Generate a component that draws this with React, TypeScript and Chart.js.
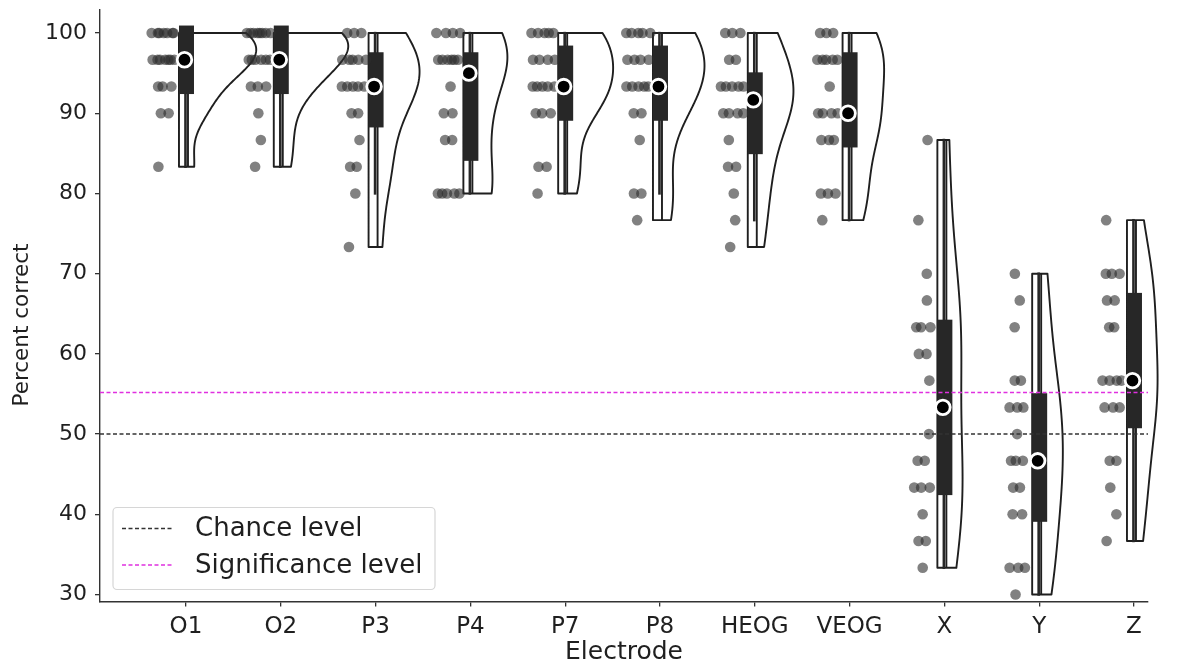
import React, { useEffect, useRef } from 'react';
import { Chart, registerables } from 'chart.js';
Chart.register(...registerables);

// ---------- data (percent correct, 20 participants per electrode) ----------
const electrodes = ['O1', 'O2', 'P3', 'P4', 'P7', 'P8', 'HEOG', 'VEOG', 'X', 'Y', 'Z'];

const scoresO1 = [100, 100, 100, 100, 100, 100, 100, 96.67, 96.67, 96.67, 96.67, 96.67, 96.67, 96.67, 93.33, 93.33, 93.33, 90, 90, 83.33];
const scoresO2 = [100, 100, 100, 100, 100, 100, 100, 100, 96.67, 96.67, 96.67, 96.67, 96.67, 96.67, 93.33, 93.33, 93.33, 90, 86.67, 83.33];
const scoresP3 = [100, 100, 100, 96.67, 96.67, 96.67, 96.67, 96.67, 93.33, 93.33, 93.33, 93.33, 93.33, 90, 90, 86.67, 83.33, 83.33, 80, 73.33];
const scoresP4 = [100, 100, 100, 100, 96.67, 96.67, 96.67, 96.67, 96.67, 96.67, 93.33, 90, 90, 86.67, 86.67, 80, 80, 80, 80, 80];
const scoresP7 = [100, 100, 100, 100, 100, 96.67, 96.67, 96.67, 96.67, 93.33, 93.33, 93.33, 93.33, 93.33, 90, 90, 90, 83.33, 83.33, 80];
const scoresP8 = [100, 100, 100, 100, 100, 96.67, 96.67, 96.67, 96.67, 93.33, 93.33, 93.33, 93.33, 93.33, 90, 90, 86.67, 80, 80, 76.67];
const scoresHEOG = [100, 100, 100, 96.67, 96.67, 93.33, 93.33, 93.33, 93.33, 93.33, 90, 90, 90, 90, 86.67, 83.33, 83.33, 80, 76.67, 73.33];
const scoresVEOG = [100, 100, 100, 96.67, 96.67, 96.67, 96.67, 96.67, 93.33, 90, 90, 90, 90, 86.67, 86.67, 86.67, 80, 80, 80, 76.67];
const scoresX = [86.67, 76.67, 70, 66.67, 63.33, 63.33, 63.33, 60, 60, 56.67, 50, 46.67, 46.67, 43.33, 43.33, 43.33, 40, 36.67, 36.67, 33.33];
const scoresY = [70, 66.67, 63.33, 56.67, 56.67, 53.33, 53.33, 53.33, 50, 46.67, 46.67, 46.67, 43.33, 43.33, 40, 40, 33.33, 33.33, 33.33, 30];
const scoresZ = [76.67, 70, 70, 70, 66.67, 66.67, 63.33, 63.33, 56.67, 56.67, 56.67, 56.67, 53.33, 53.33, 53.33, 46.67, 46.67, 43.33, 40, 36.67];

const allScores = [scoresO1, scoresO2, scoresP3, scoresP4, scoresP7, scoresP8, scoresHEOG, scoresVEOG, scoresX, scoresY, scoresZ];

const chanceLevel = 50;
const significanceLevel = 55.2;
const yTickValues = [30, 40, 50, 60, 70, 80, 90, 100];
const yAxisTitle = 'Percent correct';
const xAxisTitle = 'Electrode';

// ---------- layout constants (pixels / axis ranges) ----------
const X_MIN = -0.907;
const X_MAX = 10.148;
const Y_MIN = 29.13;
const Y_MAX = 102.86;
const PX_PER_UNIT = 94.8;
const FONT = "'DejaVu Sans', 'Liberation Sans', sans-serif";
const INK = '#1f1f1f';
const DARK = '#272727';

// ---------- statistics ----------
function quantile(sorted: number[], p: number) {
  const idx = (sorted.length - 1) * p;
  const lo = Math.floor(idx);
  const hi = Math.ceil(idx);
  return sorted[lo] + (sorted[hi] - sorted[lo]) * (idx - lo);
}

function makeStats(vals: number[]) {
  const s = [...vals].sort((a, b) => a - b);
  const n = s.length;
  const q1 = quantile(s, 0.25);
  const med = quantile(s, 0.5);
  const q3 = quantile(s, 0.75);
  const iqr = q3 - q1;
  const loF = q1 - 1.5 * iqr;
  const hiF = q3 + 1.5 * iqr;
  const wLo = Math.min(...s.filter((v) => v > loF + 1e-6));
  const wHi = Math.max(...s.filter((v) => v < hiF - 1e-6));
  const mean = s.reduce((a, b) => a + b, 0) / n;
  const variance = s.reduce((a, b) => a + (b - mean) * (b - mean), 0) / (n - 1);
  const bw = Math.sqrt(variance) * Math.pow(n, -0.2);
  const kde = (y: number) => {
    let sum = 0;
    for (const v of s) {
      const z = (y - v) / bw;
      sum += Math.exp(-0.5 * z * z);
    }
    return sum / (n * bw * Math.sqrt(2 * Math.PI));
  };
  return { q1, med, q3, wLo, wHi, min: s[0], max: s[n - 1], kde };
}

const stats = allScores.map(makeStats);
const GRID_N = 140;
const globalMaxDensity = Math.max(
  ...stats.map((st) => {
    let m = 0;
    for (let k = 0; k <= GRID_N; k++) {
      const v = st.min + ((st.max - st.min) * k) / GRID_N;
      m = Math.max(m, st.kde(v));
    }
    return m;
  })
);

// ---------- jittered rain points ----------
function hash(a: number, b: number) {
  const t = Math.sin(a * 12.9898 + b * 78.233) * 43758.5453;
  return t - Math.floor(t);
}

const rainPoints: { x: number; y: number }[] = [];
allScores.forEach((vals, i) => {
  const groups = new Map<number, number>();
  vals.forEach((v) => groups.set(v, (groups.get(v) || 0) + 1));
  groups.forEach((count, v) => {
    const span = Math.min(22, 7 * (count - 1));
    for (let k = 0; k < count; k++) {
      const base = count === 1 ? 0 : -span / 2 + (span * k) / (count - 1);
      const jit = (hash(i + 1, v + k) - 0.5) * (count === 1 ? 14 : 3);
      const px = -22 + base + jit;
      rainPoints.push({ x: i + px / PX_PER_UNIT, y: v });
    }
  });
});

const medianPoints = stats.map((st, i) => ({ x: i - 1.5 / PX_PER_UNIT, y: st.med }));

// ---------- plugins ----------
const raincloudPlugin = {
  id: 'raincloud',
  beforeDatasetsDraw(chart: any) {
    const { ctx, scales } = chart;
    const xs = scales.x;
    const ys = scales.y;
    const unit = xs.getPixelForValue(1) - xs.getPixelForValue(0);
    const maxW = 0.72 * unit;
    ctx.save();
    stats.forEach((st, i) => {
      const c = xs.getPixelForValue(i);
      const left = c - 7;
      const base = c + 2;
      const py = (v: number) => ys.getPixelForValue(v);
      const w = (v: number) => (st.kde(v) / globalMaxDensity) * maxW;
      ctx.beginPath();
      ctx.moveTo(left, py(st.min));
      ctx.lineTo(left, py(st.max));
      for (let k = 0; k <= GRID_N; k++) {
        const v = st.max - ((st.max - st.min) * k) / GRID_N;
        ctx.lineTo(base + w(v), py(v));
      }
      ctx.closePath();
      ctx.fillStyle = '#ffffff';
      ctx.fill();
      ctx.lineWidth = 1.9;
      ctx.lineJoin = 'round';
      ctx.strokeStyle = INK;
      ctx.stroke();
      ctx.beginPath();
      ctx.moveTo(base, py(st.min));
      ctx.lineTo(base, py(st.max));
      ctx.stroke();
      ctx.fillStyle = DARK;
      ctx.fillRect(c - 1.8, py(st.wHi) - 1.2, 2.6, py(st.wLo) - py(st.wHi) + 2.4);
      ctx.fillRect(c - 7, py(st.q3) - 7.5, 15, py(st.q1) - py(st.q3) + 15);
    });
    ctx.restore();
  },
};

const overlayPlugin = {
  id: 'overlay',
  afterDraw(chart: any) {
    const { ctx, chartArea } = chart;
    ctx.save();
    // y-axis title
    ctx.save();
    ctx.translate(22, 325);
    ctx.rotate(-Math.PI / 2);
    ctx.font = `21.5px ${FONT}`;
    ctx.fillStyle = INK;
    ctx.textAlign = 'center';
    ctx.textBaseline = 'middle';
    ctx.fillText(yAxisTitle, 0, 0);
    ctx.restore();
    // legend
    const bx = chartArea.left + 13;
    const by = chartArea.bottom - 94;
    const bw = 322;
    const bh = 82;
    ctx.beginPath();
    const r = 4;
    ctx.moveTo(bx + r, by);
    ctx.arcTo(bx + bw, by, bx + bw, by + bh, r);
    ctx.arcTo(bx + bw, by + bh, bx, by + bh, r);
    ctx.arcTo(bx, by + bh, bx, by, r);
    ctx.arcTo(bx, by, bx + bw, by, r);
    ctx.closePath();
    ctx.fillStyle = 'rgba(255,255,255,0.85)';
    ctx.fill();
    ctx.strokeStyle = '#d6d6d6';
    ctx.lineWidth = 1.2;
    ctx.stroke();
    const items = chart.data.datasets.filter((d: any) => d.showInLegend);
    items.forEach((d: any, k: number) => {
      const yy = by + 21 + k * 36.5;
      ctx.beginPath();
      ctx.setLineDash([4, 2.5]);
      ctx.lineWidth = 1.5;
      ctx.strokeStyle = d.borderColor;
      ctx.moveTo(bx + 9, yy);
      ctx.lineTo(bx + 60, yy);
      ctx.stroke();
      ctx.setLineDash([]);
      ctx.fillStyle = INK;
      ctx.font = `26px ${FONT}`;
      ctx.textBaseline = 'middle';
      ctx.textAlign = 'left';
      ctx.fillText(d.label, bx + 82, yy + 1);
    });
    ctx.restore();
  },
};

export default function App() {
  const canvasRef = useRef<HTMLCanvasElement | null>(null);

  useEffect(() => {
    if (!canvasRef.current) return;
    const chart = new Chart(canvasRef.current, {
      type: 'scatter',
      data: {
        datasets: [
          {
            type: 'line',
            label: 'Chance level',
            showInLegend: true,
            data: [
              { x: X_MIN, y: chanceLevel },
              { x: X_MAX, y: chanceLevel },
            ],
            borderColor: '#333333',
            borderWidth: 1.5,
            borderDash: [4, 2.5],
            pointRadius: 0,
          } as any,
          {
            type: 'line',
            label: 'Significance level',
            showInLegend: true,
            data: [
              { x: X_MIN, y: significanceLevel },
              { x: X_MAX, y: significanceLevel },
            ],
            borderColor: '#e030e0',
            borderWidth: 1.5,
            borderDash: [4, 2.5],
            pointRadius: 0,
          } as any,
          {
            label: 'Median',
            data: medianPoints,
            pointRadius: 7.3,
            pointBackgroundColor: '#000000',
            pointBorderColor: '#ffffff',
            pointBorderWidth: 2.8,
          },
          {
            label: 'Participants',
            data: rainPoints,
            pointRadius: 5.3,
            pointBackgroundColor: 'rgba(45,45,45,0.6)',
            pointBorderWidth: 0,
          },
        ],
      },
      options: {
        animation: false,
        responsive: true,
        maintainAspectRatio: false,
        layout: { padding: { left: 0, top: 8, right: 42, bottom: 0 } },
        plugins: { legend: { display: false }, tooltip: { enabled: false } },
        scales: {
          x: {
            type: 'linear',
            min: X_MIN,
            max: X_MAX,
            afterBuildTicks: (axis: any) => {
              axis.ticks = electrodes.map((_, i) => ({ value: i }));
            },
            afterFit: (axis: any) => {
              axis.height = 60.5;
              axis.paddingLeft = 0;
              axis.paddingRight = 0;
            },
            ticks: {
              autoSkip: false,
              maxRotation: 0,
              padding: 7,
              color: INK,
              font: { family: FONT, size: 23 },
              callback: (v: any) => electrodes[Math.round(Number(v))] ?? '',
            },
            grid: { display: true, drawOnChartArea: false, drawTicks: true, tickLength: 5, color: '#333', lineWidth: 1.3 },
            border: { display: true, color: '#333', width: 1.4 },
            title: {
              display: true,
              text: xAxisTitle,
              color: INK,
              font: { family: FONT, size: 25, lineHeight: 0.75 },
              padding: { top: 0, bottom: 0 },
            },
          },
          y: {
            type: 'linear',
            min: Y_MIN,
            max: Y_MAX,
            afterBuildTicks: (axis: any) => {
              axis.ticks = yTickValues.map((v) => ({ value: v }));
            },
            afterFit: (axis: any) => {
              axis.width = 100;
              axis.paddingTop = 0;
              axis.paddingBottom = 0;
            },
            ticks: {
              padding: 8,
              color: INK,
              font: { family: FONT, size: 22 },
            },
            grid: { display: true, drawOnChartArea: false, drawTicks: true, tickLength: 5, color: '#333', lineWidth: 1.3 },
            border: { display: true, color: '#333', width: 1.4 },
            title: { display: false },
          },
        },
      },
      plugins: [raincloudPlugin, overlayPlugin],
    });
    return () => chart.destroy();
  }, []);

  return (
    <div style={{ position: 'fixed', left: 0, top: 0, width: 1190, height: 662, background: '#ffffff' }}>
      <canvas ref={canvasRef} />
    </div>
  );
}
